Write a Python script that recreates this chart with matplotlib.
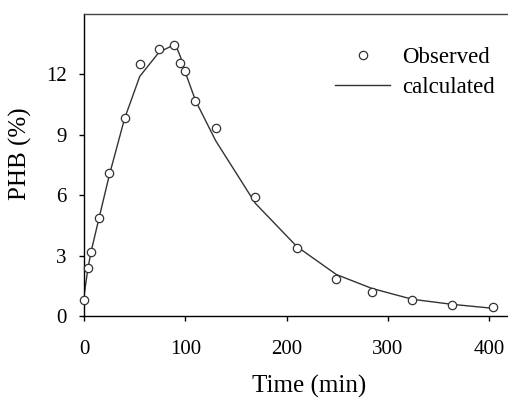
import numpy as np
import matplotlib
matplotlib.use("Agg")
import matplotlib.pyplot as plt

# observed PHB content (%) vs time (min)
t_obs = [0, 4, 7, 15, 25, 40, 55, 74, 89, 95, 100, 110, 130, 169, 210, 249, 284, 324, 363, 404]
phb_obs = [0.79, 2.39, 3.2, 4.87, 7.09, 9.85, 12.5, 13.28, 13.48, 12.57, 12.18, 10.69, 9.34, 5.9,
           3.4, 1.82, 1.19, 0.78, 0.53, 0.43]

# model curve
t_calc = [0, 4, 7, 15, 25, 40, 55, 74, 90, 95, 100, 110, 130, 169, 210, 249, 284, 324, 363, 404]
phb_calc = [1.0, 2.4, 3.2, 4.9, 7.0, 9.8, 11.9, 13.1, 13.5, 12.9, 12.1, 10.7, 8.7, 5.6,
            3.45, 2.06, 1.37, 0.83, 0.58, 0.38]

plt.rcParams['font.family'] = ['Liberation Serif', 'DejaVu Serif']

W, H = 508, 398
fig = plt.figure(figsize=(W / 100, H / 100), dpi=100)
# axes runs past the right edge of the picture (original figure was cropped)
ax_l, ax_r, ax_t, ax_b = 84, 534, 14, 316
ax = fig.add_axes([ax_l / W, 1 - ax_b / H, (ax_r - ax_l) / W, (ax_b - ax_t) / H])

ax.plot(t_calc, phb_calc, color='#333333', lw=1.0, label='calculated', zorder=2)
ax.plot(t_obs, phb_obs, ls='none', marker='o', ms=6, mfc='white', mec='#333333', mew=0.9,
        label='Observed', zorder=3, clip_on=False)

ax.set_xlim(0, 444)
ax.set_ylim(0, 15)
ax.set_xticks([0, 100, 200, 300, 400])
ax.set_yticks([0, 3, 6, 9, 12])
ax.tick_params(axis='both', direction='out', length=3.5, width=1, labelsize=15, colors='black')
ax.tick_params(axis='x', pad=14)
ax.tick_params(axis='y', pad=9)

ax.spines['right'].set_visible(False)
for s in ['left', 'bottom', 'top']:
    ax.spines[s].set_linewidth(1.0)
ax.spines['top'].set_color('#444444')

ax.set_xlabel('Time (min)', fontsize=18)
ax.set_ylabel('PHB (%)', fontsize=18)
ax.xaxis.set_label_coords(0.5, -0.195)
ax.yaxis.set_label_coords(-0.116, 0.538)

h, l = ax.get_legend_handles_labels()
ax.legend([h[1], h[0]], [l[1], l[0]], frameon=False, fontsize=16.5, numpoints=1,
          handlelength=2.4, handletextpad=0.55, labelspacing=0.4,
          borderpad=0, borderaxespad=0, loc='upper left',
          bbox_to_anchor=(335 / W, 1 - 47 / H), bbox_transform=fig.transFigure)

fig.savefig('out.png', dpi=100)
